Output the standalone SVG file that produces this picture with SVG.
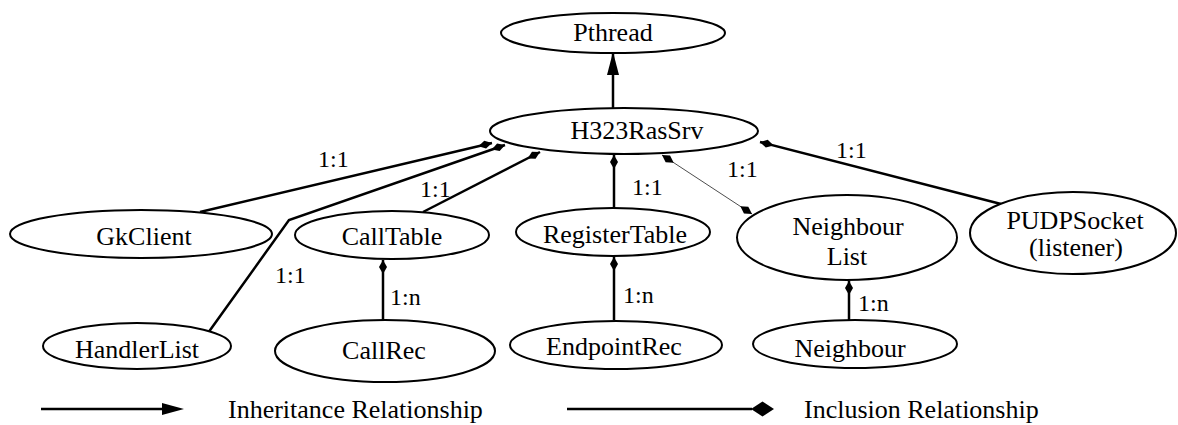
<svg xmlns="http://www.w3.org/2000/svg" width="1178" height="425" viewBox="0 0 1178 425">
<style>
.node ellipse { fill: #ffffff; stroke: #000000; stroke-width: 2; }
.node text, .lbl, .legend text { font-family: "Liberation Serif", "Times New Roman", serif; fill: #000000; }
.node text { font-size: 26px; text-anchor: middle; }
.lbl { font-size: 24px; }
.legend text { font-size: 26px; }
.edge { fill: none; stroke: #000000; stroke-width: 2.5; }
.thin { fill: none; stroke: #000000; stroke-width: 0.7; }
</style>
<defs>
<marker id="dia" viewBox="0 0 14 9" refX="14" refY="4.5" markerWidth="14" markerHeight="9" markerUnits="userSpaceOnUse" orient="auto-start-reverse">
<path d="M0,4.5 L7,0.5 L14,4.5 L7,8.5 Z" fill="#000000"/>
</marker>
<marker id="tri" viewBox="0 0 23 12" refX="23" refY="6" markerWidth="23" markerHeight="12" markerUnits="userSpaceOnUse" orient="auto">
<path d="M0,0 L23,6 L0,12 Z" fill="#000000"/>
</marker>
</defs>
<rect width="1178" height="425" fill="#ffffff"/>
<g id="connectors">
<line class="edge" x1="613" y1="108" x2="613" y2="52" marker-end="url(#tri)"/>
<line class="edge" x1="200" y1="212" x2="492" y2="143" marker-end="url(#dia)"/>
<polyline class="edge" points="208,333 289,220 505,145" marker-end="url(#dia)"/>
<line class="edge" x1="423" y1="212" x2="540" y2="152" marker-end="url(#dia)"/>
<line class="edge" x1="614" y1="208" x2="614" y2="155" marker-end="url(#dia)"/>
<line class="thin" x1="752" y1="214" x2="662" y2="155" marker-start="url(#dia)" marker-end="url(#dia)"/>
<line class="edge" x1="1001" y1="204" x2="760" y2="142" marker-end="url(#dia)"/>
<line class="edge" x1="383" y1="321" x2="383" y2="260" marker-end="url(#dia)"/>
<line class="edge" x1="614" y1="320" x2="614" y2="257" marker-end="url(#dia)"/>
<line class="edge" x1="849" y1="320" x2="849" y2="281" marker-end="url(#dia)"/>
<text class="lbl" x="318" y="167">1:1</text>
<text class="lbl" x="420" y="197">1:1</text>
<text class="lbl" x="275" y="283">1:1</text>
<text class="lbl" x="390" y="305">1:n</text>
<text class="lbl" x="632" y="195">1:1</text>
<text class="lbl" x="623" y="303">1:n</text>
<text class="lbl" x="727" y="177">1:1</text>
<text class="lbl" x="836" y="158">1:1</text>
<text class="lbl" x="858" y="311">1:n</text>
</g>
<g id="Pthread" class="node"><ellipse cx="613" cy="33" rx="112" ry="20"/><text x="613" y="41">Pthread</text></g>
<g id="H323RasSrv" class="node"><ellipse cx="624" cy="131" rx="134" ry="23"/><text x="637" y="139">H323RasSrv</text></g>
<g id="GkClient" class="node"><ellipse cx="141" cy="234" rx="131" ry="24"/><text x="144" y="245">GkClient</text></g>
<g id="CallTable" class="node"><ellipse cx="392" cy="235" rx="97" ry="24"/><text x="392" y="245">CallTable</text></g>
<g id="RegisterTable" class="node"><ellipse cx="613" cy="232" rx="97" ry="24"/><text x="615" y="243">RegisterTable</text></g>
<g id="NeighbourList" class="node"><ellipse cx="847" cy="237.5" rx="110" ry="42.5"/><text x="848" y="235">Neighbour</text><text x="847" y="265">List</text></g>
<g id="PUDPSocket" class="node"><ellipse cx="1073" cy="233" rx="103" ry="41"/><text x="1075" y="229">PUDPSocket</text><text x="1076" y="256">(listener)</text></g>
<g id="HandlerList" class="node"><ellipse cx="137" cy="346" rx="94" ry="23"/><text x="137" y="358">HandlerList</text></g>
<g id="CallRec" class="node"><ellipse cx="385" cy="351" rx="110" ry="31"/><text x="384" y="359">CallRec</text></g>
<g id="EndpointRec" class="node"><ellipse cx="616" cy="345" rx="106" ry="24"/><text x="614" y="355">EndpointRec</text></g>
<g id="Neighbour" class="node"><ellipse cx="855" cy="344" rx="102" ry="24"/><text x="850" y="357">Neighbour</text></g>
<g id="legend" class="legend">
<line class="edge" x1="41" y1="409" x2="162" y2="409"/>
<path d="M162,403 L184,409 L162,415 Z" fill="#000000"/>
<text x="228" y="418">Inheritance Relationship</text>
<line class="edge" x1="567" y1="409" x2="752" y2="409"/>
<path d="M751,409 L762.5,401.5 L774,409 L762.5,416.5 Z" fill="#000000"/>
<text x="804" y="418">Inclusion Relationship</text>
</g>
</svg>
